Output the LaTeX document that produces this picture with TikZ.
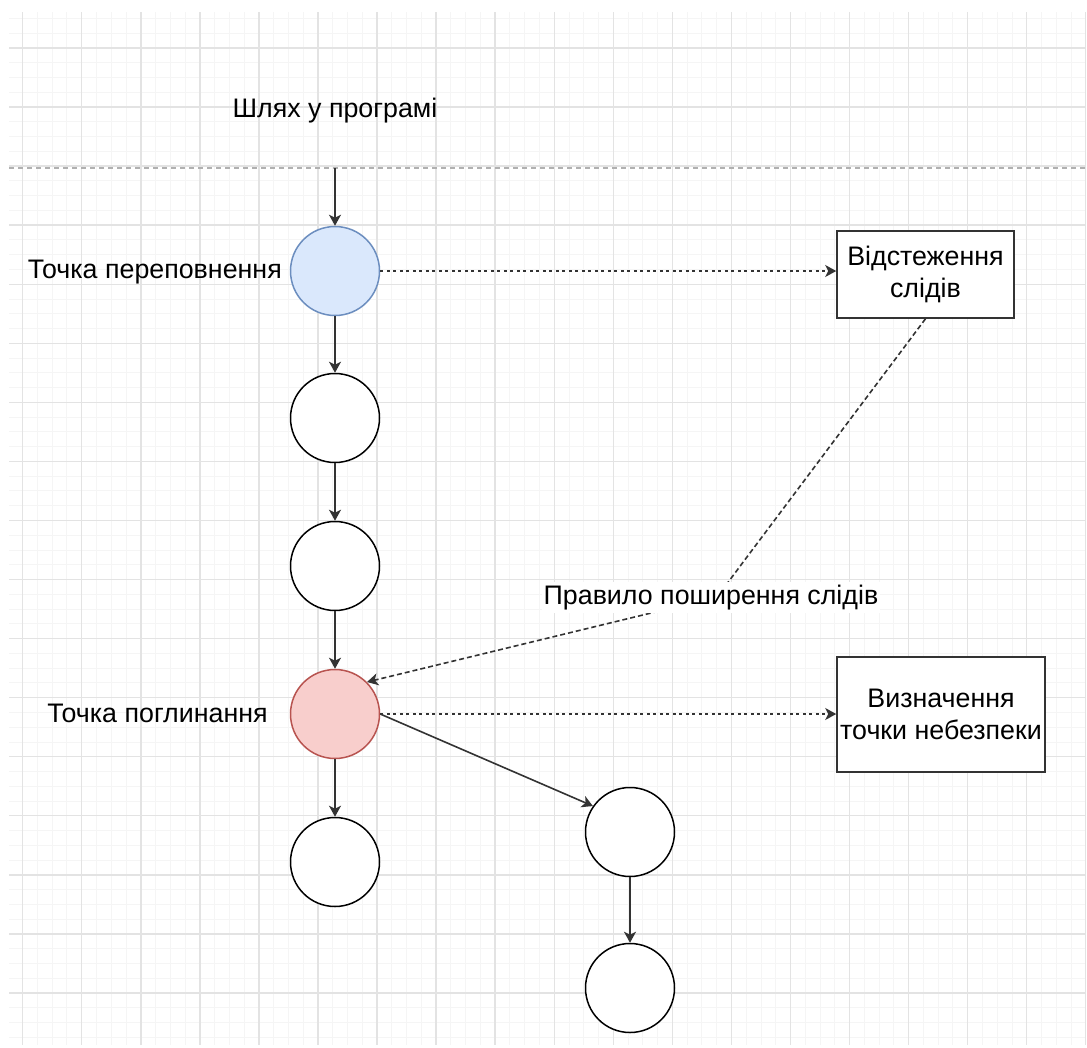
\documentclass[tikz,border=0pt]{standalone}
\usepackage{fontspec}
\setmainfont{Liberation Sans}
\usetikzlibrary{arrows.meta}
\definecolor{gridmajor}{HTML}{E3E3E3}
\definecolor{gridminor}{HTML}{F5F5F5}
\definecolor{bluefill}{HTML}{DAE8FC}
\definecolor{bluedraw}{HTML}{6C8EBF}
\definecolor{redfill}{HTML}{F8CECC}
\definecolor{reddraw}{HTML}{B85450}
\definecolor{edge}{HTML}{333333}
\definecolor{rule}{HTML}{B0B0B0}
\begin{document}
\begin{tikzpicture}[x=1pt,y=-1pt,
  state/.style={circle, draw=black, line width=1.5pt, minimum size=89pt, inner sep=0pt, fill=white},
  card/.style={draw=edge, line width=1.6pt, fill=white, align=center,
    font=\fontsize{26.8}{32.5}\selectfont, inner sep=0pt},
  lbl/.style={font=\fontsize{26.8}{32.5}\selectfont, inner sep=0pt},
  flow/.style={draw=edge, line width=1.6pt, -{Stealth[length=11pt,width=12pt,inset=3pt]}},
  trace/.style={flow, dash pattern=on 5pt off 3pt},
  probe/.style={flow, dash pattern=on 3pt off 3.5pt},
]
\useasboundingbox (0,0) rectangle (1087,1047);

% background grid
\begin{scope}
  \clip (9,12) rectangle (1086,1045);
  \foreach \i in {-1,...,73}
    \draw[gridminor, line width=1pt] ({22.7+\i*14.766},12) -- ({22.7+\i*14.766},1045);
  \foreach \j in {-3,...,70}
    \draw[gridminor, line width=1pt] (9,{48+\j*14.766}) -- (1086,{48+\j*14.766});
  \foreach \i in {0,...,18}
    \draw[gridmajor, line width=1.4pt] ({22.7+\i*59.06},12) -- ({22.7+\i*59.06},1045);
  \foreach \j in {0,...,17}
    \draw[gridmajor, line width=1.4pt] (9,{48+\j*59.06}) -- (1086,{48+\j*59.06});
\end{scope}

% program path boundary
\coordinate (ruleL) at (9,168);
\coordinate (ruleR) at (1086,168);
\coordinate (entry) at (335,168);
\draw[rule, line width=1.2pt, dash pattern=on 5pt off 4pt] (ruleL) -- (ruleR);
\node[lbl, anchor=base] (title) at (335,117) {Шлях у програмі};

% path nodes
\node[state, fill=bluefill, draw=bluedraw] (c1) at (335,271) {};
\node[state] (c2) at (335,418) {};
\node[state] (c3) at (335,566) {};
\node[state, fill=redfill, draw=reddraw] (c4) at (335,714) {};
\node[state] (c5) at (335,862) {};
\node[state] (c6) at (630,832) {};
\node[state] (c7) at (630,988) {};

\node[lbl, anchor=base east] (l1) at (282,278) {Точка переповнення};
\node[lbl, anchor=base] (l4) at (157.5,722) {Точка поглинання};

% analysis boxes
\node[card, minimum width=177pt, minimum height=87pt] (b1) at (925.5,274.5)
  {Відстеження\\слідів};
\node[card, minimum width=208pt, minimum height=115pt] (b2) at (941,714.5)
  {Визначення\\точки небезпеки};

% control flow
\draw[flow] (entry) -- (c1);
\draw[flow] (c1) -- (c2);
\draw[flow] (c2) -- (c3);
\draw[flow] (c3) -- (c4);
\draw[flow] (c4) -- (c5);
\draw[flow] (c4.east) -- (c6.145);
\draw[flow] (c6) -- (c7);

% analysis links
\draw[probe] (c1.east) -- (c1.east -| b1.west);
\draw[probe] (c4.east) -- (c4.east -| b2.west);
\coordinate (bend) at (717,597);
\draw[trace] (b1.south) -- (bend) -- (c4.45);
\node[lbl, fill=white, inner ysep=3.3pt, inner xsep=2pt] (rule) at (711,597.5) {Правило поширення слідів};
\end{tikzpicture}
\end{document}
